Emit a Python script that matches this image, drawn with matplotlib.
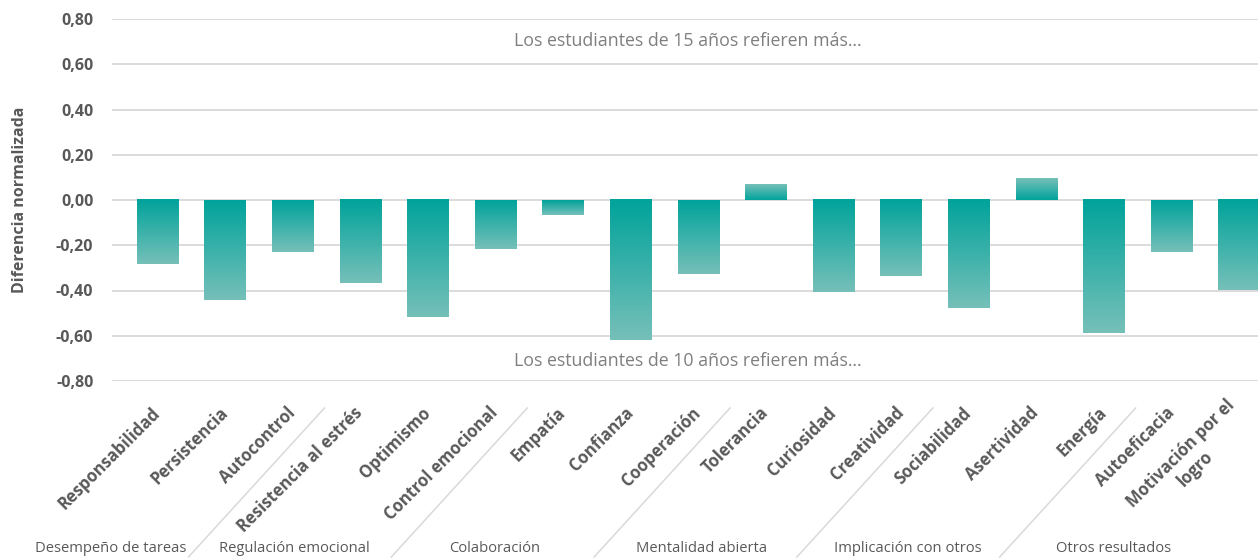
import matplotlib.pyplot as plt
import numpy as np
from matplotlib.colors import LinearSegmentedColormap
from matplotlib.lines import Line2D

plt.rcParams['font.family'] = ['Open Sans', 'DejaVu Sans']

# Data
categories = ['Responsabilidad', 'Persistencia', 'Autocontrol',
              'Resistencia al estrés', 'Optimismo', 'Control emocional',
              'Empatía', 'Confianza', 'Cooperación',
              'Tolerancia', 'Curiosidad', 'Creatividad',
              'Sociabilidad', 'Asertividad', 'Energía',
              'Autoeficacia', 'Motivación por el\nlogro']
values = [-0.285, -0.44, -0.228, -0.369, -0.518, -0.216, -0.065, -0.62, -0.325,
          0.07, -0.408, -0.338, -0.479, 0.093, -0.589, -0.228, -0.40]
groups = ['Desempeño de tareas', 'Regulación emocional', 'Colaboración',
          'Mentalidad abierta', 'Implicación con otros', 'Otros resultados']
group_sizes = [3, 3, 3, 3, 3, 2]

W, H = 1258, 559
text_col = '#595959'
grid_col = '#d9d9d9'

fig = plt.figure(figsize=(W / 100, H / 100), dpi=100)
ax = fig.add_axes([111.5 / W, 1 - 381 / H, 1 - 111.5 / W, (381 - 19) / H])

x = np.arange(len(categories))
bars = ax.bar(x, values, width=0.61, color='none', zorder=2)

# gradient fill: dark at zero, lighter towards the end of the bar
cmap = LinearSegmentedColormap.from_list('teal', ['#00a39b', '#76c0b9'])
grad = np.linspace(0, 1, 256).reshape(-1, 1)
for b, v in zip(bars, values):
    x0 = b.get_x()
    ax.imshow(grad, cmap=cmap, aspect='auto', origin='lower',
              extent=(x0, x0 + b.get_width(), 0, v), zorder=2)

ax.set_xlim(-0.68, 16.28)
ax.set_ylim(-0.8, 0.8)

yt = np.round(np.arange(-0.8, 0.81, 0.2), 2)
ax.set_yticks(yt)
ax.set_yticklabels([f'{v:.2f}'.replace('.', ',').replace('-0,00', '0,00') for v in yt],
                   fontsize=11.5, fontweight='bold', color=text_col)
ax.tick_params(axis='y', length=0, pad=13)
ax.yaxis.grid(True, color=grid_col, lw=1.3)
ax.set_axisbelow(True)
for s in ax.spines.values():
    s.set_visible(False)

ax.set_xticks(x)
ax.set_xticklabels(categories, rotation=45, ha='right', va='center',
                   rotation_mode='anchor', multialignment='center',
                   fontsize=12, fontweight='bold', color=text_col)
ax.tick_params(axis='x', length=0, pad=21)

fig.text(20 / W, 1 - 200 / H, 'Diferencia normalizada', rotation=90,
         ha='center', va='center', fontsize=11.5, fontweight='bold', color=text_col)

ax.text(0.503, 0.939, 'Los estudiantes de 15 años refieren más…', transform=ax.transAxes,
        ha='center', va='center', fontsize=12.8, color='#7f7f7f')
ax.text(0.503, 0.055, 'Los estudiantes de 10 años refieren más…', transform=ax.transAxes,
        ha='center', va='center', fontsize=12.8, color='#7f7f7f')

# group separators, slanted like the category labels
bounds = np.cumsum(group_sizes)[:-1] - 0.5
for bnd in bounds:
    px = ax.transData.transform((bnd, 0))[0]
    fig.add_artist(Line2D([(px - 2) / W, (px - 138) / W], [1 - 408 / H, 1 - 557 / H],
                          color=grid_col, lw=1.1))

group_label_x = [111, 294, 495, 702, 908, 1114]
for gx, g in zip(group_label_x, groups):
    fig.text(gx / W, 1 - 549 / H, g, ha='center', va='center', fontsize=10.6, color=text_col)

fig.savefig('out.png', dpi=100)
